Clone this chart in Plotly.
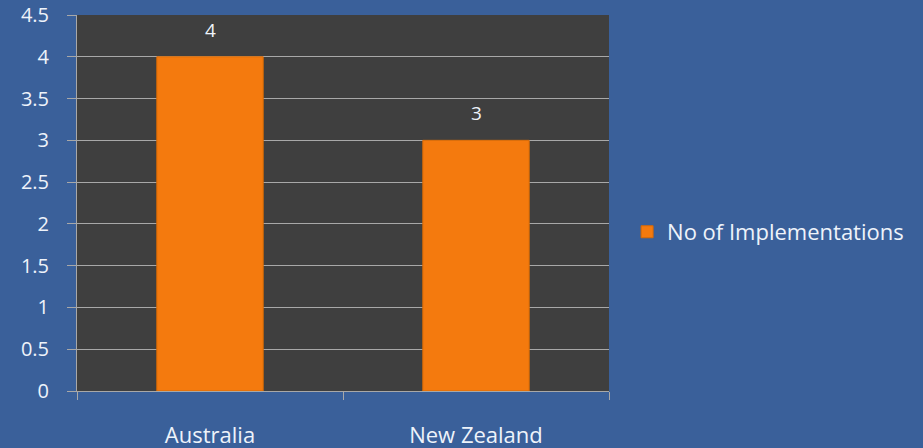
import plotly.graph_objects as go

categories = ["Australia", "New Zealand"]
values = [4, 3]
series_name = "No of Implementations"
y_ticks = [0, 0.5, 1, 1.5, 2, 2.5, 3, 3.5, 4, 4.5]

BG = "#3A609A"
PLOT_BG = "#3F3F3F"
GRID = "#A8A8A8"
BAR = "#F47A0E"
TXT = "#EEF3FA"
FONT = "Open Sans"

fig = go.Figure()
fig.add_trace(go.Bar(
    x=categories, y=values, name=series_name,
    marker=dict(color=BAR, line=dict(color="#D86A05", width=1)),
))

for c, v in zip(categories, values):
    fig.add_annotation(x=c, y=v, text=str(v), showarrow=False,
                       yanchor="middle", yshift=27,
                       font=dict(color=TXT, size=19, family=FONT))

fig.update_layout(
    width=923, height=448,
    paper_bgcolor=BG, plot_bgcolor=PLOT_BG,
    margin=dict(l=77, r=314, t=15, b=57),
    bargap=0.6,
    font=dict(family=FONT, color=TXT, size=18),
    showlegend=True,
    legend=dict(x=1.034, y=0.423, xanchor="left", yanchor="middle",
                font=dict(size=22, color=TXT, family=FONT),
                bgcolor="rgba(0,0,0,0)"),
    xaxis=dict(showgrid=False, showline=True, linecolor=GRID, linewidth=1,
               ticks="outside", tickson="boundaries", ticklen=8, tickcolor=GRID,
               ticklabelstandoff=25, tickfont=dict(size=22, color=TXT),
               automargin=False),
    yaxis=dict(range=[0, 4.5], tickvals=y_ticks,
               ticktext=[("%g" % t) for t in y_ticks],
               showgrid=True, gridcolor=GRID, gridwidth=1,
               showline=True, linecolor=GRID, linewidth=1,
               ticks="outside", ticklen=9, tickcolor=GRID,
               ticklabelstandoff=14, zeroline=False, automargin=False,
               tickfont=dict(size=20, color=TXT)),
)

fig.write_html("out.html", config={"displayModeBar": False},
               post_script="document.body.style.margin='0';document.body.style.overflow='hidden';")
